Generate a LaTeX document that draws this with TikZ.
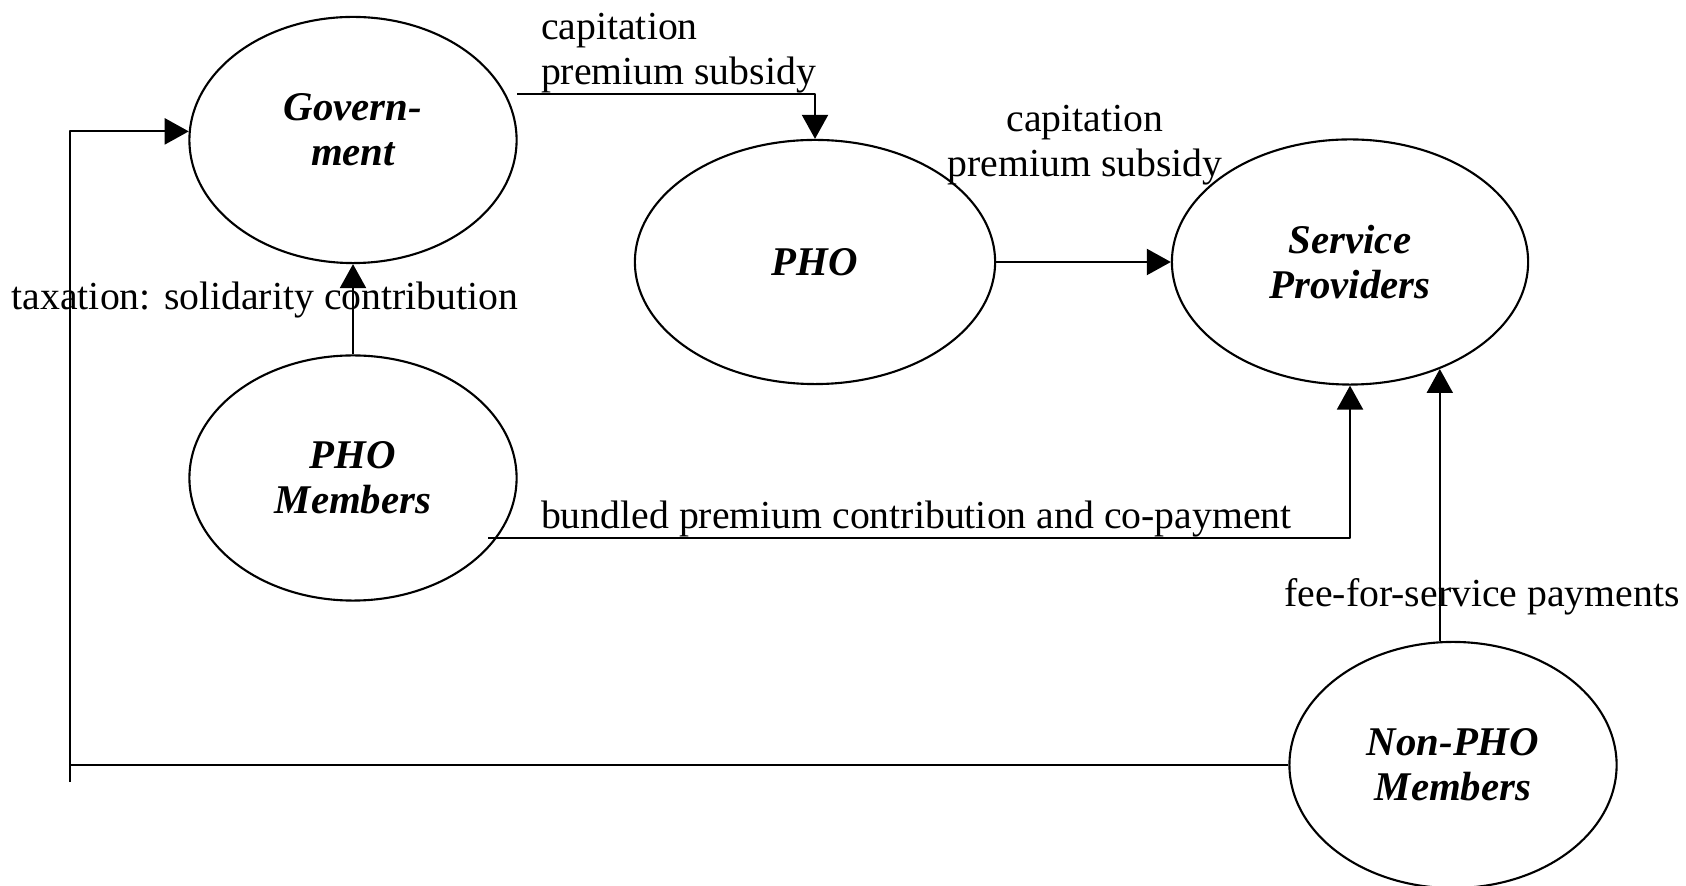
\documentclass[tikz,border=0pt]{standalone}
\usepackage{fontspec}
\setmainfont{Liberation Serif}
\usetikzlibrary{shapes.geometric,arrows.meta}
\begin{document}
\begin{tikzpicture}[x=0.01cm,y=-0.01cm,line width=0.6pt,line join=round,>={Triangle[length=2.4mm,width=2.6mm]},
	party/.style={draw,ellipse,inner sep=0pt,align=center,font=\fontsize{11.6}{12.8}\selectfont\bfseries\itshape},
	flow/.style={inner sep=0pt,font=\fontsize{11.3}{12.8}\selectfont}]
	\useasboundingbox (0,0) rectangle (1686,886);
	\node[party,minimum width=3.27cm,minimum height=2.46cm] (gov) at (353,140) {Govern-\\ment\rule[-5.7pt]{0pt}{5.7pt}};
	\node[party,minimum width=3.6cm,minimum height=2.44cm] (pho) at (815,262) {PHO};
	\node[party,minimum width=3.56cm,minimum height=2.45cm] (sp) at (1350,262) {Service\\Providers};
	\node[party,minimum width=3.27cm,minimum height=2.45cm] (members) at (353,478) {PHO\\Members};
	\node[party,minimum width=3.27cm,minimum height=2.46cm] (nonpho) at (1453,765) {Non-PHO\\Members};
	\coordinate (govout) at (517,94);
	\coordinate (memout) at (488,538);
	\coordinate (loopend) at (70,782);
	\draw[->] (govout) -| (pho.north);
	\node[flow,anchor=south west,align=left] (capgov) at (540,94) {capitation\\premium subsidy};
	\draw[->] (pho.east) -- (sp.west);
	\node[flow,align=center] (cappho) at (1085,145) {capitation\\premium subsidy};
	\node[flow] (tax) at (265,300) {taxation: solidarity contribution};
	\draw[->] (members.north) -- (gov.south);
	\draw[->] (memout) -| (sp.south);
	\node[flow,anchor=south west] (bundled) at (540,538) {bundled premium contribution and co-payment};
	\draw[->] (sp.-50 |- nonpho.north) -- (sp.-50);
	\node[flow] (fee) at (1482,597) {fee-for-service payments};
	\draw (nonpho.west) -- (nonpho.west -| loopend);
	\draw[->] (loopend) |- (gov.177);
\end{tikzpicture}
\end{document}
